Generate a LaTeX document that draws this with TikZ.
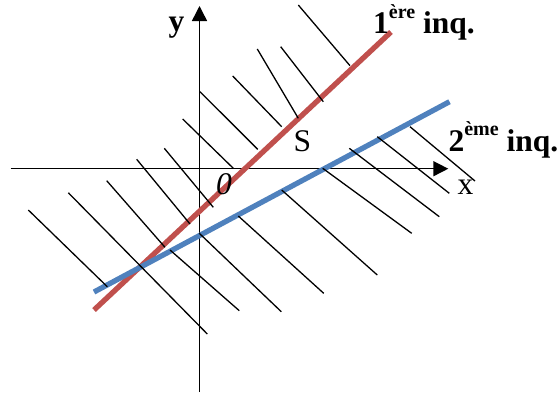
\documentclass[tikz,border=0pt]{standalone}
\usepackage{fontspec}
\setmainfont{Liberation Serif}
\usetikzlibrary{arrows.meta}
\definecolor{ineqred}{HTML}{C0504D}
\definecolor{ineqblue}{HTML}{4F81BD}
\begin{document}
\begin{tikzpicture}[x=1pt,y=-1pt,
  axis/.style={line width=1.5pt,black,-{Triangle[length=15pt,width=15pt]}},
  hatch/.style={line width=1.3pt,black},
  firstline/.style={line width=5.3pt,ineqred},
  secondline/.style={line width=5.3pt,ineqblue},
  lbl/.style={inner sep=0pt,font=\fontsize{31.5}{31.5}\selectfont}]
\useasboundingbox (0,0) rectangle (557,392);
\clip (0,0) rectangle (557,392);
% axes
\coordinate (xs) at (10.7,168.7);
\coordinate (xe) at (448.3,168.7);
\coordinate (ys) at (199.5,392);
\coordinate (ye) at (199.5,6);
\draw[axis] (xs) -- (xe);
\draw[axis] (ys) -- (ye);
% boundary lines
\coordinate (r1) at (94,310);
\coordinate (r2) at (391,32);
\coordinate (b1) at (94,292);
\coordinate (b2) at (449.5,101.7);
\draw[firstline] (r1) -- (r2);
\draw[secondline] (b1) -- (b2);
% hatching
\foreach \ax/\ay/\bx/\by in {
  298.3/5/350/65.7,
  280.7/46.7/323.3/101.7,
  257.3/49/298.3/118.3,
  232.7/76/281.7/126.7,
  200/91.7/257.7/149.3,
  182.7/119/233.3/168.3,
  164.3/148.3/213.3/207.3,
  136.7/159.3/190/224,
  106.7/180.7/165/247.3,
  68.3/192.7/207.3/334,
  28.3/210/107.3/286.7,
  170/250/239.3/310.7,
  199.3/233.3/281.3/311.7,
  238.3/216/323.7/293.3,
  281.7/190/377.3/275,
  322.7/168.3/411.7/233.3,
  349.3/148.3/439.3/216.7,
  377.3/136.7/449.3/193.3,
  410/126.7/475/181}
  \draw[hatch] (\ax,\ay) -- (\bx,\by);
% labels
\node[lbl,anchor=base] (ylab) at (176.5,31) {\textbf{y}};
\node[lbl,anchor=base west] (ineqone) at (373,33.3)
  {\textbf{1\raisebox{15pt}{\fontsize{20}{20}\selectfont ère} inq.}};
\node[lbl,anchor=base west] (ineqtwo) at (448.3,151.6)
  {\textbf{2\raisebox{16pt}{\fontsize{20}{20}\selectfont ème} inq.}};
\node[lbl,anchor=base west] (slab) at (293.3,151.6) {S};
\node[lbl,anchor=base] (xlab) at (465.5,194) {x};
\node[lbl,anchor=base west] (olab) at (216,194.5) {\textit{0}};
\end{tikzpicture}
\end{document}
